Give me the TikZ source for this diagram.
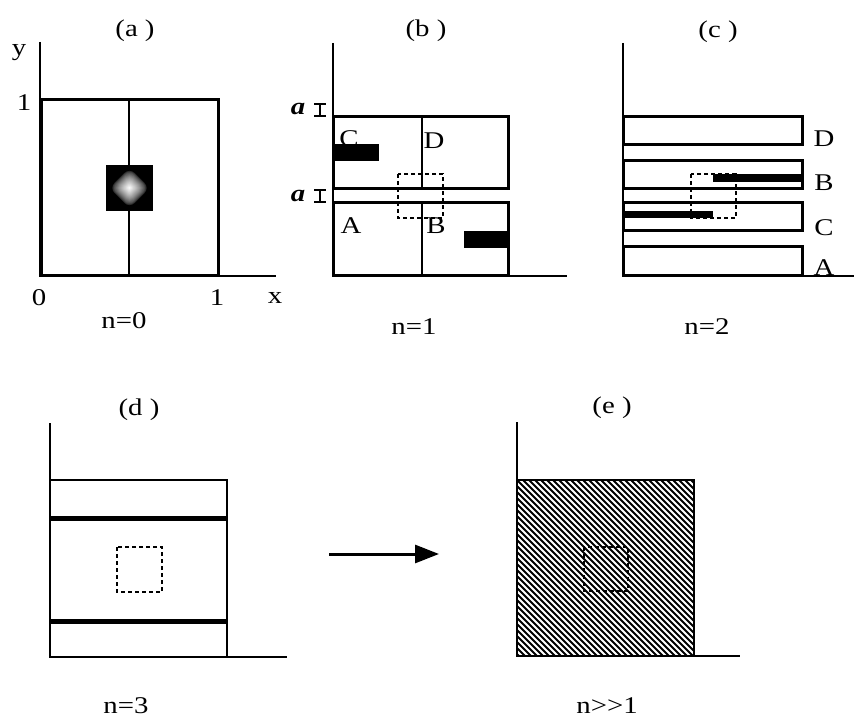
\documentclass[tikz,border=0pt]{standalone}
\usepackage{fontspec}
\setmainfont[FakeStretch=1.2]{Liberation Serif}
\usetikzlibrary{arrows.meta}
\begin{document}
\begin{tikzpicture}[x=1pt,y=-1pt,
  lbl/.style={inner sep=0pt,font=\fontsize{24}{26}\selectfont},
  axis/.style={line width=1.8pt},
  frame/.style={line width=3pt},
  divider/.style={line width=1.5pt},
  bar/.style={fill=black,draw=none},
  dashbox/.style={line width=1.5pt,dash pattern=on 4pt off 3pt},
  ibeam/.style={line width=1.3pt},
  hatch/.style={line width=1.8pt}]
\useasboundingbox (0,0) rectangle (854,719);
\fill[white] (0,0) rectangle (854,719);

% ---------- (a) ----------
\node[lbl] (ta) at (135,31) {(a )};
\draw[axis] (40,42) -- (40,276) -- (276,276);
\fill[black] (106,165) rectangle (153,211);
\foreach \r in {21,20,...,1}{
  \pgfmathsetmacro\p{100*(1-\r/21)^0.6}
  \fill[white!\p!black, rounded corners=\r*0.35pt] (129.5-\r,188) -- (129.5,188-\r) -- (129.5+\r,188) -- (129.5,188+\r) -- cycle;
}
\draw[line width=2.4pt] (129,100) -- (129,165) (129,211) -- (129,276);
\draw[frame] (41,100) rectangle (218,276);
\node[lbl] (ya) at (19,53) {y};
\node[lbl] (one1) at (24,103) {1};
\node[lbl] (zero) at (39,298) {0};
\node[lbl] (one2) at (217,298) {1};
\node[lbl] (xa) at (275,298) {x};
\node[lbl] (na) at (124,321) {n=0};

% ---------- (b) ----------
\node[lbl] (tb) at (426,31) {(b )};
\draw[axis] (333,43) -- (333,276) -- (567,276);
\draw[frame] (333,117) rectangle (508,189);
\draw[frame] (333,203) rectangle (508,276);
\draw[divider] (422,117) -- (422,189) (422,203) -- (422,276);
\node[lbl] (lC1) at (349,139) {C};
\fill[bar] (333,144) rectangle (379,161);
\fill[bar] (464,231) rectangle (508,248);
\draw[dashbox] (398,174) rectangle (443,218);
\node[lbl] (lD1) at (434,141) {D};
\node[lbl] (lA1) at (351,226) {A};
\node[lbl] (lB1) at (436,226) {B};
\node[lbl] (a1) at (298,109) {\textbf{\textit{a}}};
\node[lbl] (a2) at (298,196) {\textbf{\textit{a}}};
\draw[ibeam] (314,104) -- (326,104) (320,104) -- (320,116) (314,116) -- (326,116);
\draw[ibeam] (314,190) -- (326,190) (320,190) -- (320,202) (314,202) -- (326,202);
\node[lbl] (nb) at (414,327) {n=1};

% ---------- (c) ----------
\node[lbl] (tc) at (718,32) {(c )};
\draw[axis] (623,43) -- (623,276) -- (854,276);
\draw[frame] (623,117) rectangle (802,145);
\draw[frame] (623,161) rectangle (802,189);
\draw[frame] (623,203) rectangle (802,231);
\draw[frame] (623,247) rectangle (802,276);
\fill[bar] (713,174) rectangle (802,182);
\fill[bar] (623,211) rectangle (713,218);
\draw[dashbox] (691,174) rectangle (736,218);
\node[lbl] (lD2) at (824,139) {D};
\node[lbl] (lB2) at (824,183) {B};
\node[lbl] (lC2) at (824,228) {C};
\node[lbl] (lA2) at (824,268) {A};
\node[lbl] (nc) at (707,327) {n=2};

% ---------- (d) ----------
\node[lbl] (td) at (139,410) {(d )};
\draw[axis] (50,423) -- (50,657) -- (287,657);
\draw[line width=1.8pt] (50,480) rectangle (227,657);
\draw[line width=5pt] (50,518) -- (227,518) (50,621) -- (227,621);
\draw[dashbox] (117,547) rectangle (162,592);
\node[lbl] (nd) at (126,706) {n=3};

% ---------- arrow ----------
\coordinate (arrS) at (329,554);
\coordinate (arrE) at (439,554);
\draw[line width=3pt,-{Triangle[length=24pt,width=18pt]}] (arrS) -- (arrE);

% ---------- (e) ----------
\node[lbl] (te) at (612,408) {(e )};
\begin{scope}
\clip (517,480) rectangle (694,656);
\foreach \k in {-186,-180,...,186}
  \draw[hatch] (517+\k,474) -- (517+\k+188,662);
\end{scope}
\draw[axis] (517,422) -- (517,656) -- (740,656);
\draw[line width=2pt] (517,480) rectangle (694,656);
\draw[dashbox] (584,547) rectangle (628,591);
\node[lbl] (ne) at (607,706) {n>{}>1};
\end{tikzpicture}
\end{document}
